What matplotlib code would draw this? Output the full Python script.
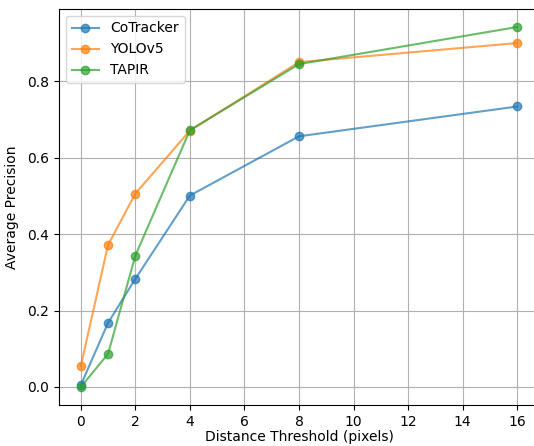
import matplotlib
matplotlib.use("Agg")
import matplotlib.pyplot as plt

thresholds = [0, 1, 2, 4, 8, 16]
cotracker = [0.005, 0.168, 0.283, 0.501, 0.656, 0.734]
yolov5 = [0.055, 0.372, 0.506, 0.671, 0.850, 0.900]
tapir = [0.0, 0.087, 0.344, 0.672, 0.845, 0.942]

W, H = 534, 446
fig = plt.figure(figsize=(W / 100, H / 100), dpi=100)
left, right, top, bottom = 59, 539, 9, 405
ax = fig.add_axes([left / W, (H - bottom) / H, (right - left) / W, (bottom - top) / H])

ax.plot(thresholds, cotracker, marker='o', label='CoTracker', alpha=0.7)
ax.plot(thresholds, yolov5, marker='o', label='YOLOv5', alpha=0.7)
ax.plot(thresholds, tapir, marker='o', label='TAPIR', alpha=0.7)

ax.set_xlabel('Distance Threshold (pixels)', labelpad=1)
ax.set_ylabel('Average Precision', labelpad=6)
ax.set_xticks(range(0, 17, 2))
ax.grid(True)
ax.spines['right'].set_visible(False)
ax.legend(loc='upper left')

fig.savefig('out.png', dpi=100)
